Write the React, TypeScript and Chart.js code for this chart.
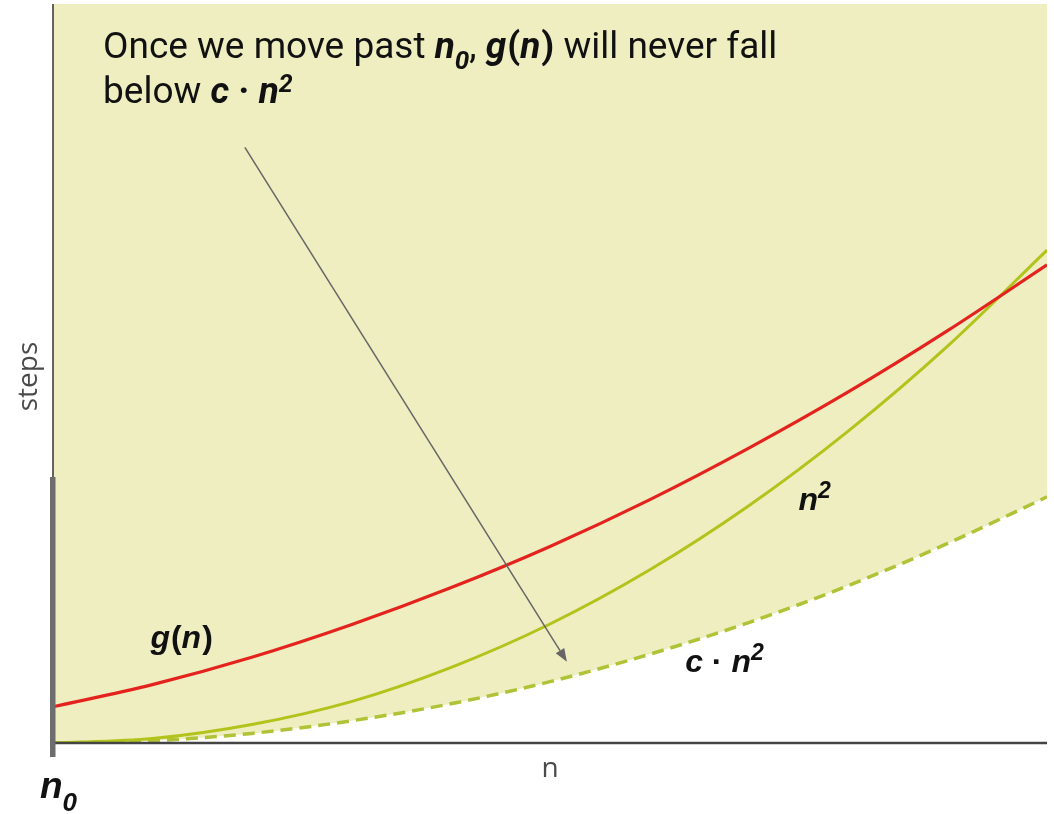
import { useEffect, useRef } from "react";
import { Chart, registerables } from "chart.js";

Chart.register(...registerables);

// Problem size n (x axis) and step counts for each curve (y axis)
const nValues = [0, 10, 20, 30, 40, 50, 60, 70, 80, 90, 100];
const gValues = [4.9, 7.9, 11.6, 16.0, 21.0, 26.6, 32.9, 39.9, 47.5, 55.8, 64.7];
const nSquaredValues = [0, 0.6, 2.5, 5.6, 10.2, 16.1, 23.4, 32.1, 42.2, 53.7, 66.7];
const cnSquaredValues = [0, 0.3, 1.3, 3.0, 5.3, 8.3, 12.0, 16.3, 21.3, 27.0, 33.3];

// Annotation arrow, in data units: [n, steps]
const arrowFrom = [19.3, 80.6];
const arrowTo = [51.7, 11.0];

type Run = { t: string; font: string; dy?: number; gap?: number };

function drawRuns(ctx: CanvasRenderingContext2D, runs: Run[], x: number, y: number, color: string) {
  ctx.fillStyle = color;
  ctx.textAlign = "left";
  ctx.textBaseline = "alphabetic";
  let cx = x;
  for (const r of runs) {
    ctx.font = r.font;
    ctx.fillText(r.t, cx, y + (r.dy || 0));
    cx += ctx.measureText(r.t).width + (r.gap || 0);
  }
}

const TR = "37px Roboto";
const TB = "bold 37px Roboto";
const TBI = "italic bold 37px Roboto";
const TSUB = "italic bold 26px Roboto";
const TSUP = "italic bold 25px Roboto";

const LBI = "italic bold 32px 'Liberation Sans'";
const LB = "bold 32px 'Liberation Sans'";
const LSUP = "italic bold 23px 'Liberation Sans'";

const decorations = {
  id: "decorations",
  afterDatasetsDraw(chart: Chart) {
    const ctx = chart.ctx;
    const { left, right, top, bottom } = chart.chartArea;
    const xs = chart.scales.x;
    const ys = chart.scales.y;
    ctx.save();

    // axes
    ctx.strokeStyle = "#333333";
    ctx.lineWidth = 1.5;
    ctx.beginPath();
    ctx.moveTo(left, top);
    ctx.lineTo(left, bottom);
    ctx.stroke();

    ctx.strokeStyle = "#444444";
    ctx.lineWidth = 2.5;
    ctx.beginPath();
    ctx.moveTo(left, bottom);
    ctx.lineTo(right, bottom);
    ctx.stroke();

    // n0 marker bar on the steps axis
    ctx.fillStyle = "#6d6d6d";
    ctx.fillRect(left - 3, bottom - 266, 5.5, 280);

    // axis titles
    ctx.fillStyle = "#4a4a4a";
    ctx.font = "28px 'Open Sans'";
    ctx.textAlign = "center";
    ctx.textBaseline = "alphabetic";
    ctx.fillText("n", (left + right) / 2, bottom + 34);
    ctx.save();
    ctx.translate(left - 16, (top + bottom) / 2 + 3);
    ctx.rotate(-Math.PI / 2);
    ctx.fillText("steps", 0, 0);
    ctx.restore();

    // arrow
    const x1 = xs.getPixelForValue(arrowFrom[0]);
    const y1 = ys.getPixelForValue(arrowFrom[1]);
    const x2 = xs.getPixelForValue(arrowTo[0]);
    const y2 = ys.getPixelForValue(arrowTo[1]);
    const ang = Math.atan2(y2 - y1, x2 - x1);
    const headLen = 13;
    const headHalf = 5;
    const bx = x2 - headLen * Math.cos(ang);
    const by = y2 - headLen * Math.sin(ang);
    ctx.strokeStyle = "#666666";
    ctx.fillStyle = "#666666";
    ctx.lineWidth = 1.5;
    ctx.beginPath();
    ctx.moveTo(x1, y1);
    ctx.lineTo(bx, by);
    ctx.stroke();
    ctx.beginPath();
    ctx.moveTo(x2, y2);
    ctx.lineTo(bx + headHalf * Math.sin(ang), by - headHalf * Math.cos(ang));
    ctx.lineTo(bx - headHalf * Math.sin(ang), by + headHalf * Math.cos(ang));
    ctx.closePath();
    ctx.fill();

    // explanation text
    const tx = xs.getPixelForValue(5.03);
    drawRuns(
      ctx,
      [
        { t: "Once we move past ", font: TR },
        { t: "n", font: TBI },
        { t: "0", font: TSUB, dy: 11 },
        { t: ", ", font: TR },
        { t: "g", font: TBI, gap: 1 },
        { t: "(", font: TB },
        { t: "n", font: TBI, gap: 1 },
        { t: ")", font: TB },
        { t: " will never fall", font: TR },
      ],
      tx,
      ys.getPixelForValue(92.7),
      "#111111"
    );
    drawRuns(
      ctx,
      [
        { t: "below ", font: TR },
        { t: "c", font: TBI },
        { t: " · ", font: TB },
        { t: "n", font: TBI },
        { t: "2", font: TSUP, dy: -11 },
      ],
      tx,
      ys.getPixelForValue(86.6),
      "#111111"
    );

    // curve labels
    drawRuns(
      ctx,
      [
        { t: "g", font: LBI, gap: 1 },
        { t: "(", font: LB },
        { t: "n", font: LBI, gap: 1 },
        { t: ")", font: LB },
      ],
      xs.getPixelForValue(9.8),
      ys.getPixelForValue(12.9),
      "#111111"
    );
    drawRuns(
      ctx,
      [
        { t: "n", font: LBI },
        { t: "2", font: LSUP, dy: -12 },
      ],
      xs.getPixelForValue(75.0),
      ys.getPixelForValue(31.5),
      "#111111"
    );
    drawRuns(
      ctx,
      [
        { t: "c", font: LBI },
        { t: " · ", font: LB },
        { t: "n", font: LBI },
        { t: "2", font: LSUP, dy: -12 },
      ],
      xs.getPixelForValue(63.6),
      ys.getPixelForValue(9.6),
      "#111111"
    );

    // n0 below the origin
    drawRuns(
      ctx,
      [
        { t: "n", font: "italic bold 37px 'Liberation Sans'" },
        { t: "0", font: "italic bold 26px 'Liberation Sans'", dy: 13 },
      ],
      left - 13,
      bottom + 55,
      "#111111"
    );

    ctx.restore();
  },
};

export default function App() {
  const canvasRef = useRef<HTMLCanvasElement | null>(null);

  useEffect(() => {
    const canvas = canvasRef.current;
    if (!canvas) return;
    const chart = new Chart(canvas, {
      type: "line",
      data: {
        labels: nValues,
        datasets: [
          {
            label: "g(n)",
            data: nValues.map((n, i) => ({ x: n, y: gValues[i] })),
            borderColor: "#e5231e",
            borderWidth: 3.2,
            pointRadius: 0,
            cubicInterpolationMode: "monotone",
            fill: false,
          },
          {
            label: "n²",
            data: nValues.map((n, i) => ({ x: n, y: nSquaredValues[i] })),
            borderColor: "#b2c31b",
            borderWidth: 3,
            pointRadius: 0,
            cubicInterpolationMode: "monotone",
            fill: false,
          },
          {
            label: "c · n²",
            data: nValues.map((n, i) => ({ x: n, y: cnSquaredValues[i] })),
            borderColor: "#b0c236",
            borderWidth: 3.5,
            borderDash: [12, 7],
            pointRadius: 0,
            cubicInterpolationMode: "monotone",
            fill: "end",
            backgroundColor: "#eeeec0",
          },
        ],
      },
      options: {
        animation: false,
        responsive: false,
        layout: { padding: { left: 53, right: 7, top: 4, bottom: 71 } },
        scales: {
          x: { type: "linear", min: 0, max: 100, display: false },
          y: { type: "linear", min: 0, max: 100, display: false },
        },
        plugins: {
          legend: { display: false },
          tooltip: { enabled: false },
          filler: { drawTime: "beforeDatasetsDraw" },
        },
      },
      plugins: [decorations],
    });
    return () => chart.destroy();
  }, []);

  return (
    <div style={{ position: "absolute", left: 0, top: 0, width: 1054, height: 814, background: "#ffffff" }}>
      <canvas ref={canvasRef} width={1054} height={814} style={{ display: "block" }} />
    </div>
  );
}
